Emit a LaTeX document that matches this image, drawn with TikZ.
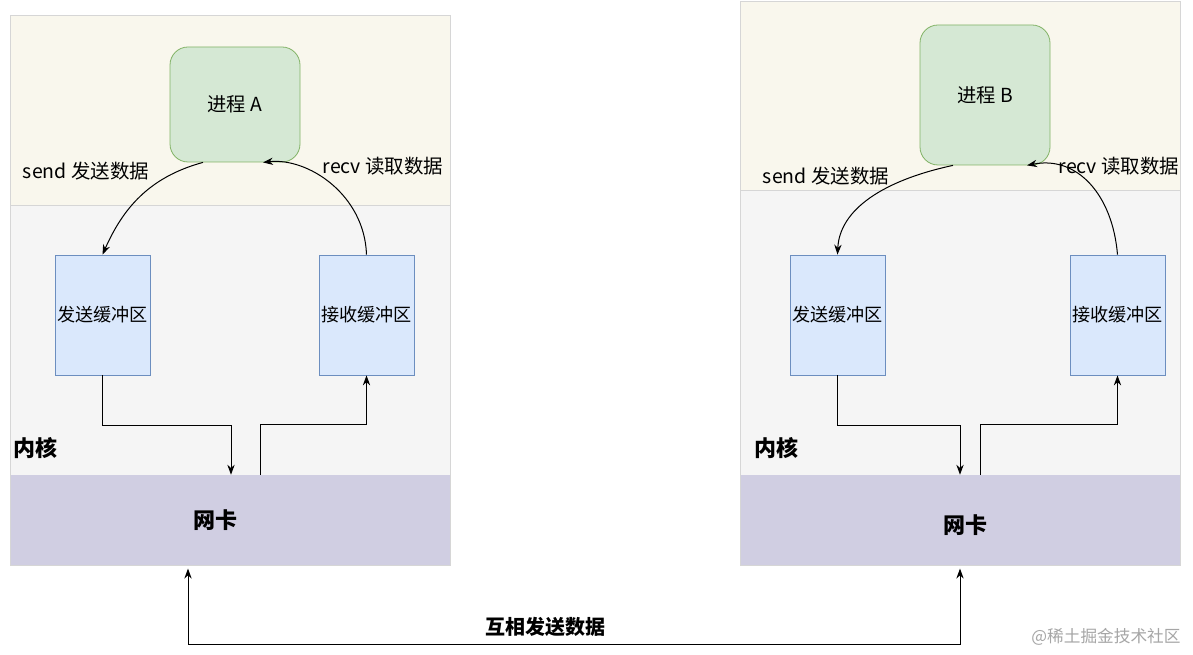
\documentclass[tikz,border=0pt]{standalone}
\usepackage{fontspec}
\setmainfont{Noto Sans CJK SC}
\usetikzlibrary{arrows.meta,calc}
\definecolor{panelY}{HTML}{F9F7ED}
\definecolor{panelG}{HTML}{F5F5F5}
\definecolor{panelP}{HTML}{D0CEE2}
\definecolor{panelBorder}{HTML}{D6D6D6}
\definecolor{procFill}{HTML}{D5E8D4}
\definecolor{procLine}{HTML}{82B366}
\definecolor{bufFill}{HTML}{DAE8FC}
\definecolor{bufLine}{HTML}{6C8EBF}
\tikzset{
  proc/.style={draw=procLine, fill=procFill, rounded corners=13.5pt, minimum width=97.5pt, line width=0.6pt, font=\fontsize{14.5}{16}\selectfont},
  buf/.style={draw=bufLine, fill=bufFill, minimum width=71.25pt, minimum height=90pt, inner xsep=0.5pt, line width=0.6pt, font=\fontsize{13.6}{15}\selectfont},
  nic/.style={fill=panelP, minimum width=330pt, minimum height=67.5pt, inner sep=0pt},
  lbl/.style={font=\fontsize{14.6}{16}\selectfont, inner sep=0pt},
  bold/.style={font=\fontsize{16.5}{18}\selectfont\bfseries, inner sep=0pt},
  arr/.style={-{Stealth[length=7.5pt,width=5.5pt]}, line width=0.75pt},
  arrboth/.style={{Stealth[length=7.5pt,width=5.5pt]}-{Stealth[length=7.5pt,width=5.5pt]}, line width=0.75pt},
}
\begin{document}
\begin{tikzpicture}[x=0.75pt,y=-0.75pt]
\useasboundingbox (0,0) rectangle (1193,655);
\fill[white] (0,0) rectangle (1193,655);
% ---- panel A ----
\fill[panelY] (10,15) rectangle (450,205);
\fill[panelG] (10,205) rectangle (450,475);
\draw[panelBorder, line width=0.6pt] (10,205) -- (450,205);
\node[nic] (nicA) at (230,520) {};
\draw[panelBorder, line width=0.6pt] (10,15) rectangle (450,565);
% ---- panel B ----
\fill[panelY] (740,1) rectangle (1180,190);
\fill[panelG] (740,190) rectangle (1180,475);
\draw[panelBorder, line width=0.6pt] (740,190) -- (1180,190);
\node[nic] (nicB) at (960,520) {};
\draw[panelBorder, line width=0.6pt] (740,1) rectangle (1180,565);
% ---- nodes A ----
\node[proc, minimum height=86.25pt] (pA) at (235,104.5) {进程 A};
\node[buf] (sbA) at (102.5,315) {发送缓冲区};
\node[buf] (rbA) at (366.5,315) {接收缓冲区};
\node[lbl] (lsA) at (86,171) {send 发送数据};
\node[lbl] (lrA) at (383,166) {recv 读取数据};
\node[bold] (kA) at (35,448) {内核};
\node[bold] (nA) at (215,520) {网卡};
% ---- nodes B ----
\node[proc, minimum height=105pt] (pB) at (985,95) {进程 B};
\node[buf] (sbB) at (837.5,315) {发送缓冲区};
\node[buf] (rbB) at (1117.5,315) {接收缓冲区};
\node[lbl] (lsB) at (826,176) {send 发送数据};
\node[lbl] (lrB) at (1119,166) {recv 读取数据};
\node[bold] (kB) at (776,448) {内核};
\node[bold] (nB) at (965,525) {网卡};
% ---- curved connectors ----
\draw[arr] ([xshift=-24pt]pA.south) .. controls +(-55,15) and +(20,-45) .. (sbA.north);
\draw[arr] (rbA.north) .. controls +(-2,-60) and +(45,-5) .. ([xshift=21pt]pA.south);
\draw[arr] ([xshift=-24pt]pB.south) .. controls +(-70,15) and +(2,-45) .. (sbB.north);
\draw[arr] (rbB.north) .. controls +(-5,-60) and +(50,-10) .. ([xshift=31.5pt]pB.south);
% ---- orthogonal connectors ----
\draw[arr] (sbA.south) -- ++(0,50) -| ([xshift=0.75pt]nicA.north);
\draw[arr] ([xshift=22.5pt]nicA.north) -- ++(0,-50) -| (rbA.south);
\draw[arr] (sbB.south) -- ++(0,50) -| (nicB.north);
\draw[arr] ([xshift=15pt]nicB.north) -- ++(0,-50) -| (rbB.south);
% ---- bottom link ----
\coordinate (busL) at (188,645);
\draw[arrboth] ([xshift=-31.5pt,yshift=-2.5pt]nicA.south) -- (busL) -| ([yshift=-2.5pt]nicB.south);
\node[font=\fontsize{15}{17}\selectfont\bfseries, inner sep=0pt] (bus) at (545,627) {互相发送数据};
% ---- watermark ----
\node[font=\fontsize{12.5}{14}\selectfont, text=black!35, inner sep=0pt] (wm) at (1106,637) {@稀土掘金技术社区};
\end{tikzpicture}
\end{document}
